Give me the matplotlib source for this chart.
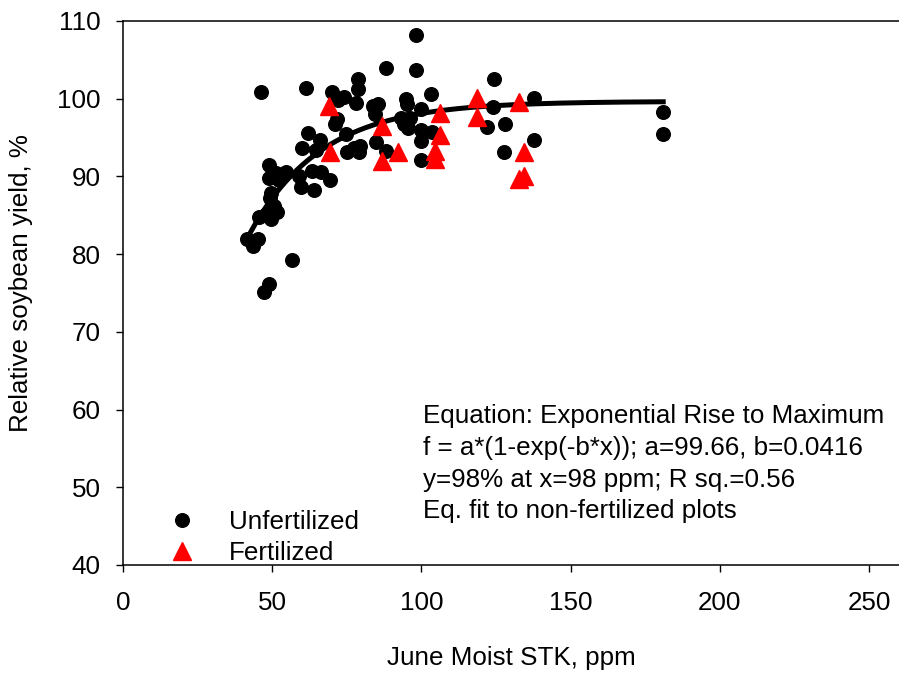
import matplotlib
matplotlib.use('Agg')
import matplotlib.pyplot as plt
import numpy as np

plt.rcParams['font.family'] = ['Liberation Sans', 'DejaVu Sans']

# unfertilized plots (June moist STK, ppm ; relative yield, %)
unfert_x = [41.5, 43.4, 45.3, 46.3, 47.4, 49.0, 45.7, 47.6, 48.8, 48.8,
            49.2, 49.7, 49.7, 50.5, 51.1, 51.5, 52.4, 54.7, 56.5, 59.0,
            59.5, 60.1, 61.3, 62.0, 63.4, 64.0, 64.5, 66.1, 66.3, 69.5,
            70.1, 70.9, 71.6, 72.0, 74.0, 74.7, 75.1, 77.4, 78.0, 78.6,
            78.9, 79.1, 79.3, 83.6, 84.5, 84.9, 85.3, 88.2, 88.2, 93.2,
            94.3, 94.9, 95.1, 95.5, 96.2, 98.2, 98.2, 99.9, 99.9, 99.9,
            99.9, 103.1, 103.5, 122.1, 124.3, 124.1, 128.0, 127.8, 137.8, 137.8,
            180.9, 180.9]
unfert_y = [81.9, 81.0, 81.9, 100.9, 75.1, 76.2, 84.8, 85.0, 91.5, 89.8,
            87.2, 87.9, 84.5, 86.2, 90.5, 85.4, 89.6, 90.6, 79.2, 90.1,
            88.6, 93.6, 101.4, 95.6, 90.7, 88.3, 93.4, 94.7, 90.6, 89.5,
            100.8, 96.7, 97.4, 99.8, 100.2, 95.4, 93.2, 93.6, 99.5, 101.2,
            102.6, 93.1, 93.9, 99.1, 98.0, 94.4, 99.3, 104.0, 93.3, 97.5,
            96.8, 99.9, 99.3, 96.2, 97.5, 108.2, 103.7, 98.7, 96.0, 94.6,
            92.1, 100.6, 95.7, 96.4, 102.6, 98.9, 96.7, 93.2, 100.1, 94.7,
            98.3, 95.4]

# fertilized plots
fert_x = [69.1, 69.3, 86.8, 86.8, 92.2, 104.7, 104.7, 106.2, 106.2, 118.7,
          118.7, 132.7, 132.7, 134.3, 134.3]
fert_y = [99.1, 93.2, 96.5, 92.0, 93.2, 93.3, 92.2, 98.2, 95.3, 100.1,
          97.7, 99.6, 89.7, 90.1, 93.1]

# fitted curve f = a*(1-exp(-b*x))
a_fit = 99.66
b_fit = 0.0416
fit_range = (41.5, 181.0)

eq_lines = ['Equation: Exponential Rise to Maximum',
            'f = a*(1-exp(-b*x)); a=99.66, b=0.0416',
            'y=98% at x=98 ppm; R sq.=0.56',
            'Eq. fit to non-fertilized plots']


def main():
    fs = 18.7
    fig = plt.figure(figsize=(8.99, 6.77), dpi=100)
    ax = fig.add_axes([123 / 899, 1 - 565 / 677, 776 / 899, 544 / 677])

    xf = np.linspace(fit_range[0], fit_range[1], 300)
    ax.plot(xf, a_fit * (1 - np.exp(-b_fit * xf)), color='black', lw=3.6,
            zorder=2)
    ax.plot(unfert_x, unfert_y, 'o', color='black', ms=9.8, ls='none',
            label='Unfertilized', zorder=3)
    ax.plot(fert_x, fert_y, '^', color='red', ms=13, ls='none',
            label='Fertilized', zorder=4)

    ax.set_xlim(0, 260)
    ax.set_ylim(40, 110)
    ax.set_xticks([0, 50, 100, 150, 200, 250])
    ax.set_yticks([40, 50, 60, 70, 80, 90, 100, 110])
    ax.spines['right'].set_visible(False)
    for s in ['left', 'bottom', 'top']:
        ax.spines[s].set_linewidth(1.1)
    ax.tick_params(axis='both', direction='out', length=5, width=1.0,
                   labelsize=fs)
    ax.tick_params(axis='x', pad=14)
    ax.tick_params(axis='y', pad=11)

    ax.set_xlabel('June Moist STK, ppm', fontsize=fs)
    ax.set_ylabel('Relative soybean yield, %', fontsize=fs)
    ax.xaxis.set_label_coords(0.5, -0.148)
    ax.yaxis.set_label_coords(-0.116, 0.518)

    ys = [0.261, 0.202, 0.143, 0.0864]
    for line, yy in zip(eq_lines, ys):
        ax.text(300 / 776, yy, line, transform=ax.transAxes, fontsize=fs,
                va='baseline', ha='left')

    ax.legend(loc='lower left', bbox_to_anchor=(0.038, -0.02), frameon=False,
              fontsize=fs, handletextpad=1.05, labelspacing=0.28,
              borderaxespad=0, handlelength=1.5)

    fig.savefig('out.png', dpi=100)


if __name__ == "__main__":
    main()
